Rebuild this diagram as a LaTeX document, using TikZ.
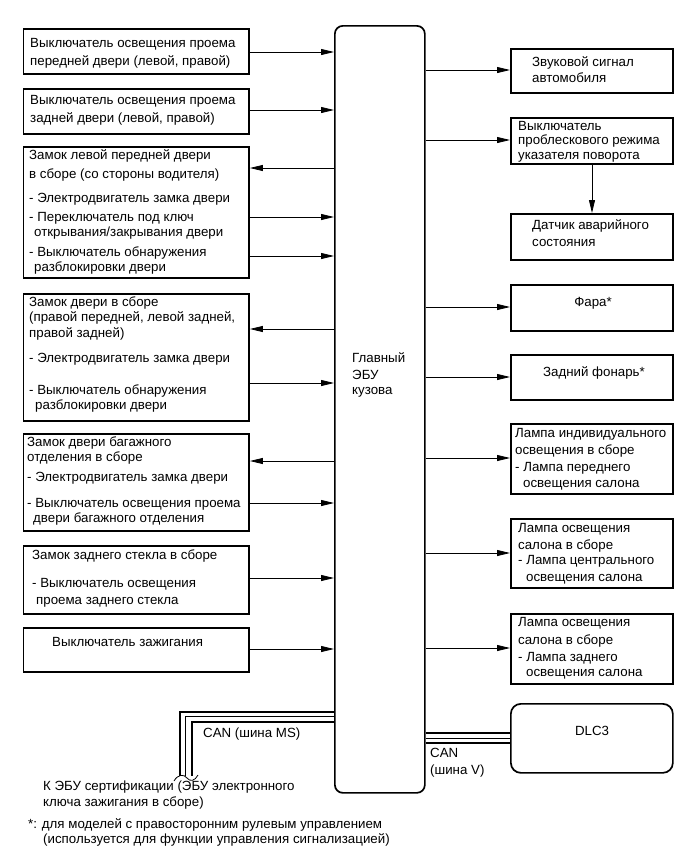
\documentclass[tikz,border=0pt]{standalone}
\usepackage{fontspec}
\setmainfont{Liberation Sans}
\usetikzlibrary{arrows.meta}

\tikzset{
  blk/.style={draw, line width=1.7pt, anchor=north west, inner sep=0pt},
  lbl/.style={anchor=base west, align=left, inner sep=0pt, font=\fontsize{13.3}{16}\selectfont},
  sig/.style={line width=0.8pt, -{Triangle[length=13pt,width=6pt]}},
  bus/.style={line width=#1},
}

\begin{document}
\begin{tikzpicture}[x=1pt,y=-1pt]
    \fill[white] (0,0) rectangle (690,855);
    \useasboundingbox (0,0) rectangle (690,855);
    % main unit (text nodes sit on the baseline of their last line)
    \node[blk, rounded corners=8pt, minimum width=90pt, minimum height=767pt] (ecu) at (334,25) {};
    \node[lbl] (ecut) at (352,394.5) {Главный\\[1pt]ЭБУ\\[-1pt]кузова};
    % left column
    \node[blk, minimum width=225.5pt, minimum height=45pt] (b1) at (22.7,28) {};
    \node[blk, minimum width=225.5pt, minimum height=45pt] (b2) at (22.7,88) {};
    \node[blk, minimum width=225.5pt, minimum height=131pt] (b3) at (22.7,146) {};
    \node[blk, minimum width=225.5pt, minimum height=127pt] (b4) at (22.7,293) {};
    \node[blk, minimum width=225.5pt, minimum height=97pt] (b5) at (22.7,433) {};
    \node[blk, minimum width=225.5pt, minimum height=68pt] (b6) at (22.7,545) {};
    \node[blk, minimum width=225.5pt, minimum height=44pt] (b7) at (22.7,627) {};
    \node[lbl] (t1) at (30,65.5) {Выключатель освещения проема\\[2pt]передней двери (левой, правой)};
    \node[lbl] (t2) at (30,122.5) {Выключатель освещения проема\\[2.5pt]задней двери (левой, правой)};
    \node[lbl] (t3) at (29,271.5) {Замок левой передней двери\\[3pt]в сборе (со стороны водителя)\\[8pt]- Электродвигатель замка двери\\[3pt]- Переключатель под ключ\\[-1pt]\hspace*{5pt}открывания/закрывания двери\\[4pt]- Выключатель обнаружения\\[-1pt]\hspace*{5pt}разблокировки двери};
    \node[lbl] (t4) at (29,409.5) {Замок двери в сборе\\[-1pt](правой передней, левой задней,\\правой задней)\\[9pt]- Электродвигатель замка двери\\[16pt]- Выключатель обнаружения\\[-1pt]\hspace*{6pt}разблокировки двери};
    \node[lbl] (t5) at (27,522.5) {Замок двери багажного\\[-1pt]отделения в сборе\\[4pt]- Электродвигатель замка двери\\[10pt]- Выключатель освещения проема\\[-1pt]\hspace*{6pt}двери багажного отделения};
    \node[lbl] (t6) at (32,604.5) {Замок заднего стекла в сборе\\[12pt]- Выключатель освещения\\[1pt]\hspace*{4pt}проема заднего стекла};
    \node[lbl] (t7) at (52,646.5) {Выключатель зажигания};
    % right column
    \node[blk, minimum width=162pt, minimum height=44pt] (r1) at (510,48) {};
    \node[blk, minimum width=162pt, minimum height=46pt] (r2) at (510,117) {};
    \node[blk, minimum width=162pt, minimum height=46pt] (r3) at (510,213) {};
    \node[blk, minimum width=162pt, minimum height=46pt] (r4) at (510,284) {};
    \node[blk, minimum width=162pt, minimum height=45pt] (r5) at (510,354) {};
    \node[blk, minimum width=162pt, minimum height=70pt] (r6) at (510,423) {};
    \node[blk, minimum width=162pt, minimum height=69pt] (r7) at (510,518) {};
    \node[blk, minimum width=162pt, minimum height=70pt] (r8) at (510,613) {};
    \node[blk, rounded corners=10pt, minimum width=162pt, minimum height=69pt] (dlc) at (510,703) {};
    \node[lbl] (u1) at (532,82.5) {Звуковой сигнал\\автомобиля};
    \node[lbl] (u2) at (518,159.5) {Выключатель\\[-2pt]проблескового режима\\[-1pt]указателя поворота};
    \node[lbl] (u3) at (532,246.5) {Датчик аварийного\\[1pt]состояния};
    \node[lbl, anchor=base] (u4) at (593,306.5) {Фара*};
    \node[lbl, anchor=base] (u5) at (594,376.5) {Задний фонарь*};
    \node[lbl] (u6) at (515,487.5) {Лампа индивидуального\\[1pt]освещения в сборе\\[1pt]- Лампа переднего\\\hspace*{8pt}освещения салона};
    \node[lbl] (u7) at (518,581.5) {Лампа освещения\\[1pt]салона в сборе\\[-1pt]- Лампа центрального\\[1pt]\hspace*{8pt}освещения салона};
    \node[lbl] (u8) at (518,676.5) {Лампа освещения\\[2pt]салона в сборе\\[1pt]- Лампа заднего\\[-1pt]\hspace*{8pt}освещения салона};
    \node[lbl, anchor=base] (dlct) at (592,735.5) {DLC3};
    % signals, left side
    \draw[sig] (b1.east |- 0,52) -- (ecu.west |- 0,52);
    \draw[sig] (b2.east |- 0,110) -- (ecu.west |- 0,110);
    \draw[sig] (ecu.west |- 0,168) -- (b3.east |- 0,168);
    \draw[sig] (b3.east |- 0,217) -- (ecu.west |- 0,217);
    \draw[sig] (b3.east |- 0,256) -- (ecu.west |- 0,256);
    \draw[sig] (ecu.west |- 0,329) -- (b4.east |- 0,329);
    \draw[sig] (b4.east |- 0,383) -- (ecu.west |- 0,383);
    \draw[sig] (ecu.west |- 0,461) -- (b5.east |- 0,461);
    \draw[sig] (b5.east |- 0,503) -- (ecu.west |- 0,503);
    \draw[sig] (b6.east |- 0,578) -- (ecu.west |- 0,578);
    \draw[sig] (b7.east |- 0,649) -- (ecu.west |- 0,649);
    % signals, right side
    \draw[sig] (ecu.east |- 0,70) -- (r1.west |- 0,70);
    \draw[sig] (ecu.east |- 0,140) -- (r2.west |- 0,140);
    \draw[sig] (r2.south -| 592,0) -- (r3.north -| 592,0);
    \draw[sig] (ecu.east |- 0,307) -- (r4.west |- 0,307);
    \draw[sig] (ecu.east |- 0,377) -- (r5.west |- 0,377);
    \draw[sig] (ecu.east |- 0,458) -- (r6.west |- 0,458);
    \draw[sig] (ecu.east |- 0,553) -- (r7.west |- 0,553);
    \draw[sig] (ecu.east |- 0,648) -- (r8.west |- 0,648);
    % CAN MS bus
    \coordinate (ms1) at (180,776);
    \coordinate (ms2) at (185.5,776);
    \coordinate (ms3) at (191.7,776);
    \draw[bus=2pt] (ecu.west |- 0,712) -| (ms1);
    \draw[bus=0.9pt] (ecu.west |- 0,716.5) -| (ms2);
    \draw[bus=1.8pt] (ecu.west |- 0,722) -| (ms3);
    \draw[bus=0.8pt] (174,781) .. controls (178,774) and (184,774) .. (187,778) .. controls (190,782) and (195,781) .. (198,775);
    \node[lbl] (canms) at (203,737.5) {CAN (шина MS)};
    % CAN V bus
    \draw[bus=1.7pt] (ecu.east |- 0,733) -- (dlc.west |- 0,733);
    \draw[bus=0.9pt] (ecu.east |- 0,738) -- (dlc.west |- 0,738);
    \draw[bus=2pt] (ecu.east |- 0,742.5) -- (dlc.west |- 0,742.5);
    \node[lbl] (canv) at (430,774.5) {CAN\\[1pt](шина V)};
    % notes
    \node[lbl] (note1) at (43,806.5) {К ЭБУ сертификации (ЭБУ электронного\\ключа зажигания в сборе)};
    \node[lbl] (note2) at (28,843.5) {*: для моделей с правосторонним рулевым управлением\\[-1pt]\hspace*{15pt}(используется для функции управления сигнализацией)};
\end{tikzpicture}
\end{document}
